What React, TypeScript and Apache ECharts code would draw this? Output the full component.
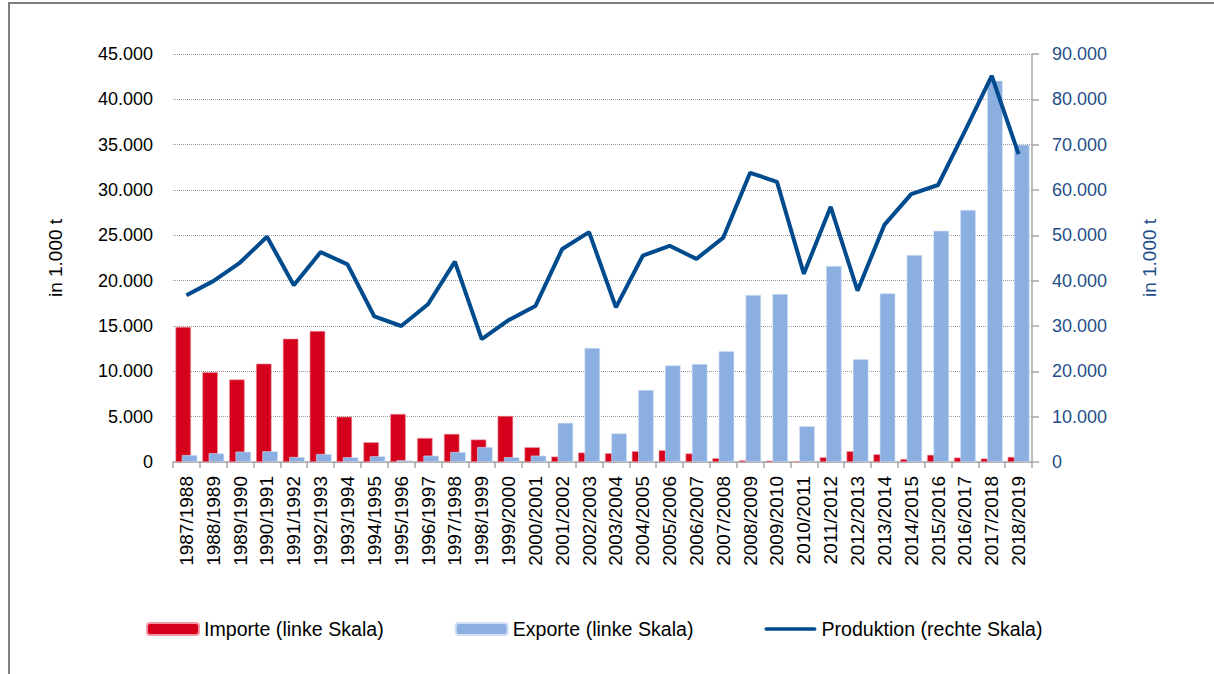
import React, { useEffect, useRef } from "react";
import * as echarts from "echarts";

const categories = [
  "1987/1988", "1988/1989", "1989/1990", "1990/1991", "1991/1992", "1992/1993",
  "1993/1994", "1994/1995", "1995/1996", "1996/1997", "1997/1998", "1998/1999",
  "1999/2000", "2000/2001", "2001/2002", "2002/2003", "2003/2004", "2004/2005",
  "2005/2006", "2006/2007", "2007/2008", "2008/2009", "2009/2010", "2010/2011",
  "2011/2012", "2012/2013", "2013/2014", "2014/2015", "2015/2016", "2016/2017",
  "2017/2018", "2018/2019",
];

const importe = [
  14900, 9900, 9100, 10850, 13600, 14450, 5000, 2180, 5300, 2650, 3100, 2480,
  5080, 1630, 600, 1040, 970, 1190, 1300, 940, 420, 190, 150, 90, 520, 1190,
  850, 330, 790, 490, 380, 560,
];

const exporte = [
  770, 960, 1140, 1180, 550, 880, 520, 630, 190, 700, 1100, 1650, 520, 700,
  4320, 12570, 3150, 7940, 10660, 10810, 12210, 18420, 18530, 3950, 21620,
  11330, 18600, 22830, 25500, 27800, 42050, 35000,
];

const produktion = [
  36800, 39900, 44000, 49700, 39000, 46300, 43600, 32100, 30000, 34800, 44200,
  27100, 31300, 34400, 47000, 50700, 34100, 45500, 47700, 44800, 49500, 63800,
  61800, 41500, 56300, 37800, 52300, 59100, 61100, 73000, 85200, 67900,
];

const seriesNames = [
  "Importe (linke Skala)",
  "Exporte (linke Skala)",
  "Produktion (rechte Skala)",
];

const axisTitle = "in 1.000 t";

const fmt = (v: number) =>
  String(v).replace(/\B(?=(\d{3})+(?!\d))/g, ".");

const FONT = "Liberation Sans";

export default function App() {
  const ref = useRef<HTMLDivElement>(null);

  useEffect(() => {
    if (!ref.current) return;
    const chart = echarts.init(ref.current, null, { renderer: "svg" });
    const gray = "#a6a6a6";
    const blueText = "#1f4e89";
    const lineIcon = "path://M2,0 L54,0 A2,2 0 0 1 54,4 L2,4 A2,2 0 0 1 2,0 Z";
    chart.setOption({
      animation: false,
      backgroundColor: "#ffffff",
      textStyle: { fontFamily: FONT },
      grid: { left: 173, right: 182, top: 54, bottom: 212, containLabel: false },
      legend: {
        left: 141,
        top: 614,
        itemWidth: 52,
        itemHeight: 12,
        itemGap: 71,
        textStyle: { fontSize: 19.6, color: "#000", fontFamily: FONT },
        data: [
          { name: seriesNames[0] },
          { name: seriesNames[1] },
          { name: seriesNames[2], icon: lineIcon },
        ],
      },
      xAxis: {
        type: "category",
        data: categories,
        boundaryGap: true,
        axisLine: { show: true, lineStyle: { color: gray, width: 1.5 } },
        axisTick: {
          show: true,
          length: 6,
          alignWithLabel: false,
          interval: 0,
          lineStyle: { color: gray, width: 1.5 },
        },
        axisLabel: {
          interval: 0,
          rotate: 90,
          fontSize: 19,
          margin: 14,
          color: "#000",
          fontFamily: FONT,
        },
        splitLine: { show: false },
      },
      yAxis: [
        {
          type: "value",
          min: 0,
          max: 45000,
          interval: 5000,
          name: axisTitle,
          nameLocation: "middle",
          nameGap: 108,
          nameTextStyle: { fontSize: 19, color: "#000", fontFamily: FONT },
          axisLine: { show: false },
          axisTick: { show: false },
          axisLabel: {
            margin: 20,
            fontSize: 18,
            color: "#000",
            fontFamily: FONT,
            formatter: (v: number) => fmt(v),
          },
          splitLine: {
            show: true,
            lineStyle: { color: "#9a9a9a", type: "dotted", width: 1 },
          },
        },
        {
          type: "value",
          position: "right",
          min: 0,
          max: 90000,
          interval: 10000,
          name: axisTitle,
          nameLocation: "middle",
          nameGap: 108,
          nameTextStyle: { fontSize: 19, color: blueText, fontFamily: FONT },
          axisLine: { show: true, lineStyle: { color: gray, width: 1.5 } },
          axisTick: { show: true, length: 7, lineStyle: { color: gray, width: 1.5 } },
          axisLabel: {
            margin: 20,
            fontSize: 18,
            color: blueText,
            fontFamily: FONT,
            formatter: (v: number) => fmt(v),
          },
          splitLine: { show: false },
        },
      ],
      series: [
        {
          name: seriesNames[0],
          type: "bar",
          yAxisIndex: 0,
          data: importe,
          barWidth: 15.5,
          barGap: "-59%",
          itemStyle: { color: "#d5001c", borderColor: "#ef9aa6", borderWidth: 0.6 },
        },
        {
          name: seriesNames[1],
          type: "bar",
          yAxisIndex: 0,
          data: exporte,
          barWidth: 15.5,
          barGap: "-59%",
          itemStyle: { color: "#8aafe0", borderColor: "#d2e1f5", borderWidth: 0.6 },
        },
        {
          name: seriesNames[2],
          type: "line",
          yAxisIndex: 1,
          data: produktion,
          symbol: "none",
          showSymbol: false,
          z: 5,
          lineStyle: { color: "#004b8d", width: 4 },
          itemStyle: { color: "#004b8d" },
        },
      ],
      graphic: [
        {
          type: "polyline",
          shape: { points: [[9, 674], [9, 3], [1214, 3]] },
          style: { stroke: "#808080", lineWidth: 2, fill: "none" },
          silent: true,
        },
      ],
    });
    return () => chart.dispose();
  }, []);

  return (
    <div
      ref={ref}
      style={{ position: "fixed", left: 0, top: 0, width: 1214, height: 674, background: "#fff" }}
    />
  );
}
